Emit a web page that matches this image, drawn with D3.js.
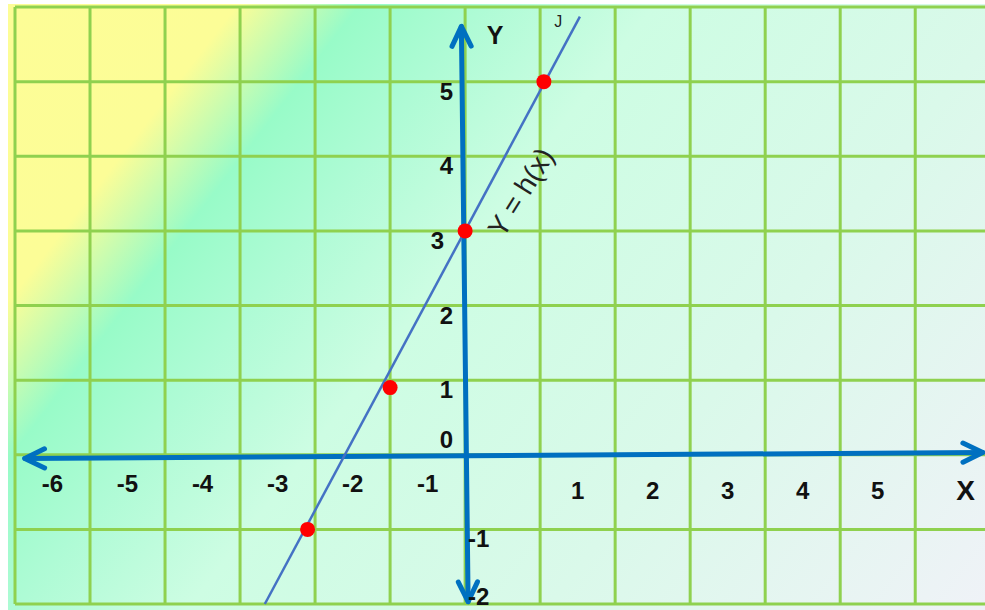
<!DOCTYPE html>
<html>
<head>
<meta charset="utf-8">
<script src="https://cdn.jsdelivr.net/npm/d3@7"></script>
<style>
  html, body { margin: 0; padding: 0; background: #ffffff; }
  svg { display: block; }
</style>
</head>
<body>
<div id="chart"></div>
<script>
// ---------- data ----------
const gridX = [-6, -5, -4, -3, -2, -1, 0, 1, 2, 3, 4, 5, 6];
const gridY = [-2, -1, 0, 1, 2, 3, 4, 5, 6];
const xTickValues = [-6, -5, -4, -3, -2, -1, 1, 2, 3, 4, 5];
const yTickValues = [5, 4, 3, 2, 1, 0, -1, -2];
const pointX = [1.05, 0, -1, -2.1];
const pointY = [5, 3, 0.9, -1];
const lineX = [-2.67, 1.53];
const lineY = [-2, 5.87];
const xAxisX = [-5.87, 6.9];
const xAxisY = [-0.05, 0.03];
const yAxisX = [-0.05, 0.04];
const yAxisY = [5.74, -1.97];
const lineLabel = "Y = h(x)";
const xAxisTitle = "X";
const yAxisTitle = "Y";
const lineTag = "J";

// ---------- setup ----------
const W = 985, H = 610;
const svg = d3.select("#chart").append("svg").attr("width", W).attr("height", H);

const x = d3.scaleLinear().domain([-6, 6.93]).range([15, 985]);
const y = d3.scaleLinear().domain([-2, 6]).range([604, 7]);

const defs = svg.append("defs");
const grad = defs.append("linearGradient")
  .attr("id", "bg").attr("gradientUnits", "userSpaceOnUse")
  .attr("x1", 8).attr("y1", 4).attr("x2", 908).attr("y2", 700);
[[0, "#fdfd96"], [0.16, "#fcfd97"], [0.245, "#98fbc8"], [0.33, "#aefbd5"],
 [0.45, "#cdfde3"], [0.7, "#daf9ea"], [1, "#eff2f7"]]
  .forEach(([o, c]) => grad.append("stop").attr("offset", o).attr("stop-color", c));

svg.append("rect").attr("x", 8).attr("y", 4).attr("width", W - 8).attr("height", H - 4)
  .attr("fill", "url(#bg)");

// grid
const gridColor = "#8fd14f";
svg.append("g").selectAll("line").data(gridX).join("line")
  .attr("x1", d => x(d)).attr("x2", d => x(d))
  .attr("y1", y(6)).attr("y2", y(-2))
  .attr("stroke", gridColor).attr("stroke-width", 3);
svg.append("g").selectAll("line").data(gridY).join("line")
  .attr("x1", x(-6)).attr("x2", W)
  .attr("y1", d => y(d)).attr("y2", d => y(d))
  .attr("stroke", gridColor).attr("stroke-width", 3);

// axes with arrowheads
const axisColor = "#0070c0";
const axisG = svg.append("g").attr("stroke", axisColor).attr("stroke-width", 5)
  .attr("stroke-linecap", "round").attr("stroke-linejoin", "round").attr("fill", "none");

function arrowAxis(x0, y0, x1, y1, head0, head1) {
  axisG.append("line").attr("x1", x0).attr("y1", y0).attr("x2", x1).attr("y2", y1);
  const ang = Math.atan2(y1 - y0, x1 - x0);
  const len = 22, spread = 0.45;
  const head = (tx, ty, a) => {
    const p = [
      [tx - len * Math.cos(a - spread), ty - len * Math.sin(a - spread)],
      [tx, ty],
      [tx - len * Math.cos(a + spread), ty - len * Math.sin(a + spread)]
    ];
    axisG.append("path").attr("d", d3.line()(p));
  };
  if (head0) head(x0, y0, ang + Math.PI);
  if (head1) head(x1, y1, ang);
}
arrowAxis(x(xAxisX[0]), y(xAxisY[0]), x(xAxisX[1]), y(xAxisY[1]), true, true);
arrowAxis(x(yAxisX[0]), y(yAxisY[0]), x(yAxisX[1]), y(yAxisY[1]), true, true);

// the function line
svg.append("line")
  .attr("x1", x(lineX[0])).attr("y1", y(lineY[0]))
  .attr("x2", x(lineX[1])).attr("y2", y(lineY[1]))
  .attr("stroke", "#4472c4").attr("stroke-width", 2.5);

// points
svg.append("g").selectAll("circle").data(pointX.map((v, i) => [v, pointY[i]])).join("circle")
  .attr("cx", d => x(d[0])).attr("cy", d => y(d[1])).attr("r", 7.5)
  .attr("fill", "#ff0000");

// tick labels
const font = "'Liberation Sans', Arial, sans-serif";
svg.append("g").selectAll("text").data(xTickValues).join("text")
  .attr("x", d => x(d + 0.5))
  .attr("y", d => y(0) + (d < 0 ? 37 : 44))
  .attr("text-anchor", "middle")
  .attr("font-family", font).attr("font-weight", "bold").attr("font-size", 24)
  .attr("fill", "#111").text(d => d);

svg.append("g").selectAll("text").data(yTickValues).join("text")
  .attr("x", d => d < 0 ? x(0) + 3 : (d === 3 ? x(0) - 21 : x(0) - 12))
  .attr("y", d => d === 0 ? y(0) - 7 : Math.min(y(d) + 18, 605))
  .attr("text-anchor", d => d < 0 ? "start" : "end")
  .attr("font-family", font).attr("font-weight", "bold").attr("font-size", 24)
  .attr("fill", "#111").text(d => d);

// axis titles
svg.append("text").attr("x", x(6.67)).attr("y", y(0) + 45)
  .attr("text-anchor", "middle").attr("font-family", font).attr("font-weight", "bold")
  .attr("font-size", 28).attr("fill", "#111").text(xAxisTitle);
svg.append("text").attr("x", x(0.4)).attr("y", y(5.5))
  .attr("text-anchor", "middle").attr("font-family", font).attr("font-weight", "bold")
  .attr("font-size", 25).attr("fill", "#111").text(yAxisTitle);

// line label
const lx = x(0.74), ly = y(3.52);
svg.append("text").attr("transform", `translate(${lx},${ly}) rotate(-58)`)
  .attr("text-anchor", "middle").attr("dy", "0.35em")
  .attr("font-family", font).attr("font-size", 28).attr("fill", "#222")
  .text(lineLabel);
svg.append("text").attr("x", x(1.24)).attr("y", y(5.73))
  .attr("text-anchor", "middle").attr("font-family", font).attr("font-size", 16)
  .attr("fill", "#222").text(lineTag);
</script>
</body>
</html>
